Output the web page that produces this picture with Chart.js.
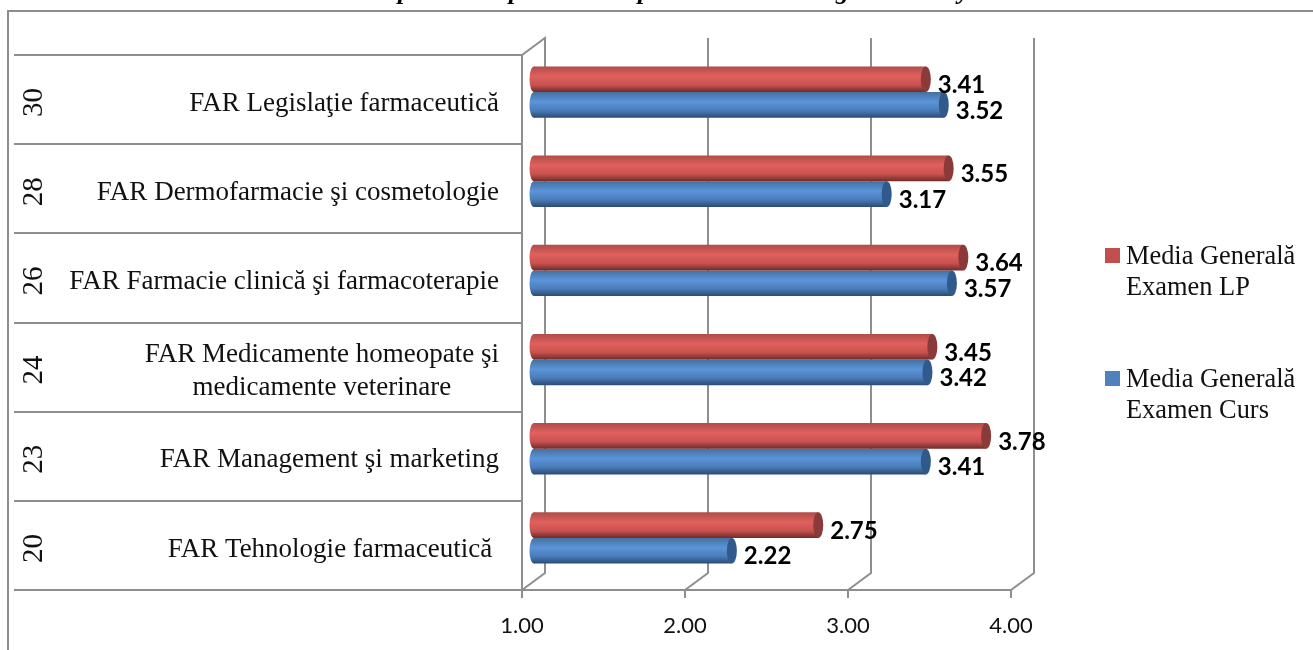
<!DOCTYPE html>
<html>
<head>
<meta charset="utf-8">
<script src="https://cdn.jsdelivr.net/npm/chart.js@4/dist/chart.umd.min.js"></script>
<style>
  html, body { margin: 0; padding: 0; background: #fff; overflow: hidden; }
  canvas { display: block; }
</style>
</head>
<body>
<canvas id="barChart" width="1313" height="650"></canvas>
<script>
var categories = ["30", "28", "26", "24", "23", "20"];
var subjects = [
    ["FAR Legislaţie farmaceutică"],
    ["FAR Dermofarmacie şi cosmetologie"],
    ["FAR Farmacie clinică şi farmacoterapie"],
    ["FAR Medicamente homeopate şi", "medicamente veterinare"],
    ["FAR Management şi marketing"],
    ["FAR Tehnologie farmaceutică "]
];
var mediaLP = [3.41, 3.55, 3.64, 3.45, 3.78, 2.75];
var mediaCurs = [3.52, 3.17, 3.57, 3.42, 3.41, 2.22];
var labelLP = ["Media Generală", "Examen LP"];
var labelCurs = ["Media Generală", "Examen Curs"];

// only the bottoms of the title letters are left in the picture
var titleLetters = [["p", 398], ["p", 509], ["p", 638], ["g", 836], ["y", 958]];

var gridColor = "#8e8e8e";
var redShades = ["#b04c49", "#e0605e", "#c8524f", "#6f2b29"];
var blueShades = ["#44709f", "#5b94d9", "#4a7cb8", "#2b4a75"];
var depthX = 23, depthY = 17;   // back wall offset
var barX = 11, barY = -7.5;     // bars stand in the middle of the depth

function barGradient(shades, index) {
    return function (c) {
        var chart = c.chart;
        if (!chart.chartArea) return shades[2];
        var band = chart.scales.y._length / categories.length;
        var h = band * 0.575 / 2;
        var mid = chart.scales.y.getPixelForValue(c.dataIndex);
        var top = mid + (index - 1) * h;
        var g = chart.ctx.createLinearGradient(0, top, 0, top + h);
        g.addColorStop(0, shades[0]);
        g.addColorStop(0.38, shades[1]);
        g.addColorStop(0.72, shades[2]);
        g.addColorStop(1, shades[3]);
        return g;
    };
}

var frame3d = {
    id: "frame3d",
    beforeDatasetsDraw: function (chart) {
        var ctx = chart.ctx, x = chart.scales.x, area = chart.chartArea;
        ctx.save();
        ctx.strokeStyle = gridColor;
        ctx.lineWidth = 2;
        // page frame
        ctx.beginPath();
        ctx.moveTo(8, 650);
        ctx.lineTo(8, 11);
        ctx.lineTo(1313, 11);
        ctx.stroke();
        x.ticks.forEach(function (t, i) {
            var px = x.getPixelForTick(i);
            ctx.beginPath();
            ctx.moveTo(px, area.bottom);
            ctx.lineTo(px + depthX, area.bottom - depthY);
            ctx.lineTo(px + depthX, area.top - depthY);
            if (i == 0) ctx.lineTo(px, area.top);
            ctx.stroke();
        });
        ctx.restore();
        // bars get shifted, left ends go under them
        ctx.save();
        ctx.translate(barX, barY);
        chart.data.datasets.forEach(function (ds, i) {
            chart.getDatasetMeta(i).data.forEach(function (bar) {
                ctx.fillStyle = bar.options.backgroundColor;
                ctx.beginPath();
                ctx.ellipse(bar.base, bar.y, 4.5, bar.height / 2, 0, 0, Math.PI * 2);
                ctx.fill();
            });
        });
    },
    afterDatasetsDraw: function (chart) {
        var ctx = chart.ctx;
        chart.data.datasets.forEach(function (ds, i) {
            chart.getDatasetMeta(i).data.forEach(function (bar) {
                ctx.fillStyle = ds.capColor;
                ctx.beginPath();
                ctx.ellipse(bar.x, bar.y, 5, bar.height / 2, 0, 0, Math.PI * 2);
                ctx.fill();
            });
        });
        ctx.restore();

        // value labels
        ctx.save();
        ctx.font = "bold 24px Lato";
        ctx.fillStyle = "#000";
        ctx.textBaseline = "middle";
        chart.data.datasets.forEach(function (ds, i) {
            chart.getDatasetMeta(i).data.forEach(function (bar, j) {
                ctx.fillText(ds.data[j].toFixed(2), bar.x + barX + 12, bar.y + barY + 6);
            });
        });
        ctx.restore();
    },
    afterDraw: function (chart) {
        var ctx = chart.ctx, y = chart.scales.y;
        ctx.save();
        ctx.fillStyle = "#111";
        ctx.textBaseline = "middle";
        categories.forEach(function (cat, i) {
            var mid = y.getPixelForValue(i);
            // outer level, turned sideways
            ctx.save();
            ctx.font = "29px 'Liberation Serif'";
            ctx.translate(34, mid + 3);
            ctx.rotate(-Math.PI / 2);
            ctx.textAlign = "center";
            ctx.fillText(cat, 0, 0);
            ctx.restore();
            // inner level, block is right aligned and its lines centered
            ctx.font = "27px 'Liberation Serif'";
            var lines = subjects[i];
            var w = Math.max.apply(null, lines.map(function (s) { return ctx.measureText(s).width; }));
            var top = mid + 4 - (lines.length - 1) * 16.5;
            ctx.textAlign = "center";
            lines.forEach(function (s, k) {
                ctx.fillText(s, 499 - w / 2, top + k * 33);
            });
        });

        // legend
        ctx.textAlign = "left";
        ctx.font = "26.4px 'Liberation Serif'";
        var rows = [[labelLP, 255, "#c0504d"], [labelCurs, 378, "#4f81bd"]];
        rows.forEach(function (r) {
            ctx.fillStyle = r[2];
            ctx.fillRect(1105, r[1] - 7, 15, 15);
            ctx.fillStyle = "#111";
            r[0].forEach(function (s, k) {
                ctx.fillText(s, 1126, r[1] + 2 + k * 31);
            });
        });

        // what remains of the title
        ctx.font = "italic bold 26px 'Liberation Serif'";
        ctx.fillStyle = "#000";
        ctx.textBaseline = "alphabetic";
        titleLetters.forEach(function (l) {
            ctx.fillText(l[0], l[1], -1);
        });
        ctx.restore();
    }
};

var lineChart = new Chart(document.getElementById("barChart").getContext("2d"), {
    type: "bar",
    data: {
        labels: categories,
        datasets: [
            {
                label: labelLP.join(" "),
                data: mediaLP,
                base: 1,
                backgroundColor: barGradient(redShades, 0),
                capColor: "#8a3a38",
                categoryPercentage: 0.575,
                barPercentage: 1,
                clip: false
            },
            {
                label: labelCurs.join(" "),
                data: mediaCurs,
                base: 1,
                backgroundColor: barGradient(blueShades, 1),
                capColor: "#305a8c",
                categoryPercentage: 0.575,
                barPercentage: 1,
                clip: false
            }
        ]
    },
    options: {
        indexAxis: "y",
        responsive: false,
        animation: false,
        layout: { padding: { top: 55, right: 302, left: 0, bottom: 0 } },
        plugins: { legend: { display: false }, tooltip: { enabled: false } },
        scales: {
            x: {
                min: 1,
                max: 4,
                ticks: {
                    stepSize: 1,
                    maxRotation: 0,
                    padding: 15,
                    color: "#111",
                    font: { family: "Lato", size: 22 },
                    callback: function (v) { return v.toFixed(2); }
                },
                grid: { drawOnChartArea: false, tickLength: 8, color: gridColor, lineWidth: 2 },
                border: { color: gridColor, width: 2 },
                afterFit: function (scale) { scale.height = 60; }
            },
            y: {
                ticks: { display: false },
                grid: { drawOnChartArea: false, tickLength: 508, color: gridColor, lineWidth: 2 },
                border: { color: gridColor, width: 2 },
                afterFit: function (scale) { scale.width = 522; }
            }
        }
    },
    plugins: [frame3d]
});
</script>
</body>
</html>
